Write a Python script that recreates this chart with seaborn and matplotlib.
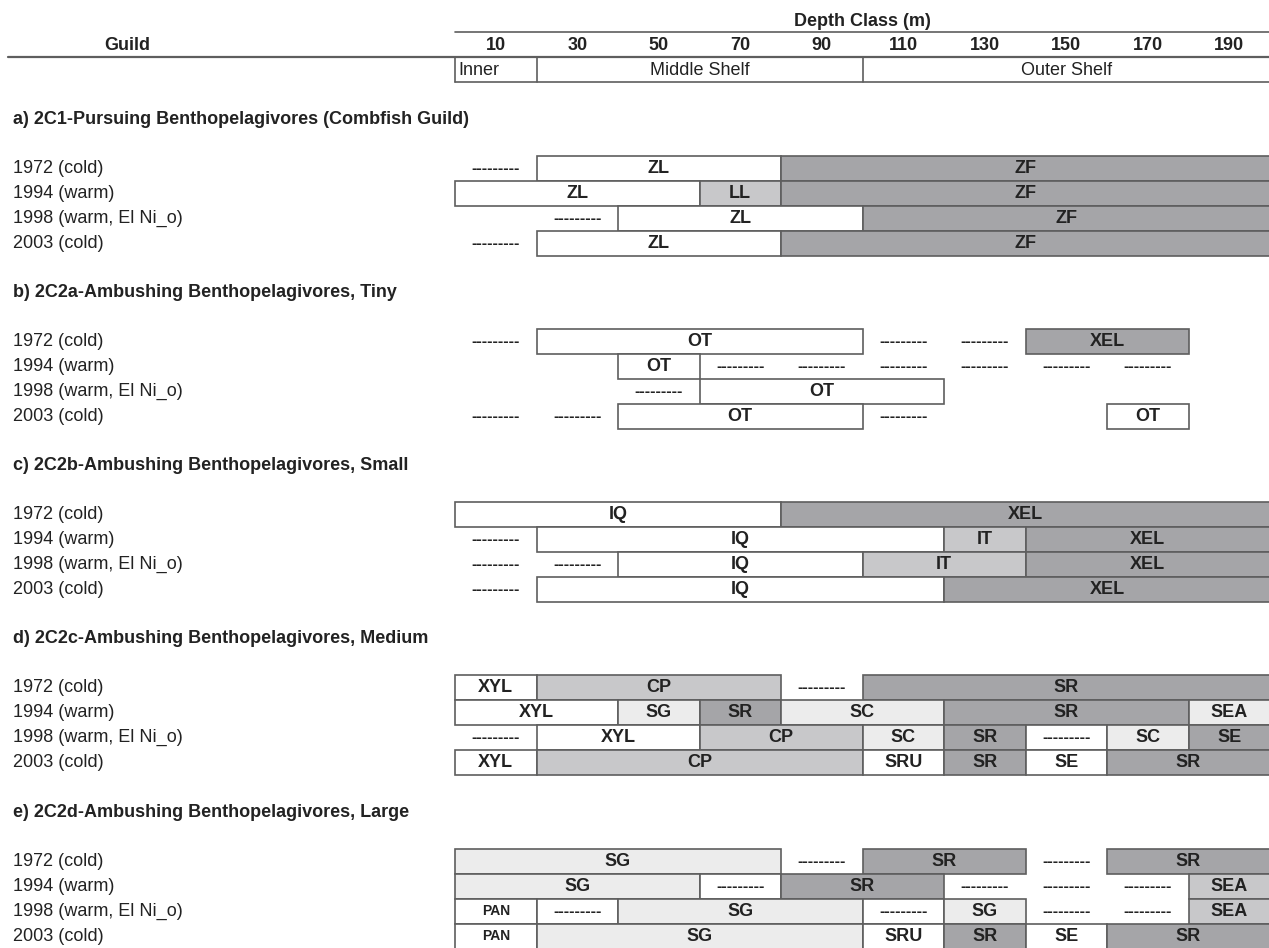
import matplotlib
matplotlib.use("Agg")
import matplotlib.pyplot as plt
import seaborn as sns

sns.set_theme(style="white")
plt.rcParams["font.family"] = ["Liberation Sans", "DejaVu Sans"]

# ---- data -------------------------------------------------------------
depth_classes = [10, 30, 50, 70, 90, 110, 130, 150, 170, 190]
shelf_zones = [("Inner", 10, 10), ("Middle Shelf", 30, 90), ("Outer Shelf", 110, 190)]
years = ["1972 (cold)", "1994 (warm)", "1998 (warm, El Ni_o)", "2003 (cold)"]
guild_titles = [
    "a) 2C1-Pursuing Benthopelagivores (Combfish Guild)",
    "b) 2C2a-Ambushing Benthopelagivores, Tiny",
    "c) 2C2b-Ambushing Benthopelagivores, Small",
    "d) 2C2c-Ambushing Benthopelagivores, Medium",
    "e) 2C2d-Ambushing Benthopelagivores, Large",
]

# each entry: (label, first depth class, last depth class, shade); shade None = absent
DASH = "---------"
guild_a = [
    [(DASH, 10, 10, None), ("ZL", 30, 70, "w"), ("ZF", 90, 190, "d")],
    [("ZL", 10, 50, "w"), ("LL", 70, 70, "l"), ("ZF", 90, 190, "d")],
    [(DASH, 30, 30, None), ("ZL", 50, 90, "w"), ("ZF", 110, 190, "d")],
    [(DASH, 10, 10, None), ("ZL", 30, 70, "w"), ("ZF", 90, 190, "d")],
]
guild_b = [
    [(DASH, 10, 10, None), ("OT", 30, 90, "w"), (DASH, 110, 110, None),
     (DASH, 130, 130, None), ("XEL", 150, 170, "d")],
    [("OT", 50, 50, "w"), (DASH, 70, 70, None), (DASH, 90, 90, None),
     (DASH, 110, 110, None), (DASH, 130, 130, None), (DASH, 150, 150, None),
     (DASH, 170, 170, None)],
    [(DASH, 50, 50, None), ("OT", 70, 110, "w")],
    [(DASH, 10, 10, None), (DASH, 30, 30, None), ("OT", 50, 90, "w"),
     (DASH, 110, 110, None), ("OT", 170, 170, "w")],
]
guild_c = [
    [("IQ", 10, 70, "w"), ("XEL", 90, 190, "d")],
    [(DASH, 10, 10, None), ("IQ", 30, 110, "w"), ("IT", 130, 130, "l"), ("XEL", 150, 190, "d")],
    [(DASH, 10, 10, None), (DASH, 30, 30, None), ("IQ", 50, 90, "w"),
     ("IT", 110, 130, "l"), ("XEL", 150, 190, "d")],
    [(DASH, 10, 10, None), ("IQ", 30, 110, "w"), ("XEL", 130, 190, "d")],
]
guild_d = [
    [("XYL", 10, 10, "w"), ("CP", 30, 70, "l"), (DASH, 90, 90, None), ("SR", 110, 190, "d")],
    [("XYL", 10, 30, "w"), ("SG", 50, 50, "v"), ("SR", 70, 70, "d"), ("SC", 90, 110, "v"),
     ("SR", 130, 170, "d"), ("SEA", 190, 190, "v")],
    [(DASH, 10, 10, None), ("XYL", 30, 50, "w"), ("CP", 70, 90, "l"), ("SC", 110, 110, "v"),
     ("SR", 130, 130, "d"), (DASH, 150, 150, "w"), ("SC", 170, 170, "v"), ("SE", 190, 190, "d")],
    [("XYL", 10, 10, "w"), ("CP", 30, 90, "l"), ("SRU", 110, 110, "w"), ("SR", 130, 130, "d"),
     ("SE", 150, 150, "w"), ("SR", 170, 190, "d")],
]
guild_e = [
    [("SG", 10, 70, "v"), (DASH, 90, 90, None), ("SR", 110, 130, "d"),
     (DASH, 150, 150, None), ("SR", 170, 190, "d")],
    [("SG", 10, 50, "v"), (DASH, 70, 70, "w"), ("SR", 90, 110, "d"), (DASH, 130, 130, None),
     (DASH, 150, 150, None), (DASH, 170, 170, None), ("SEA", 190, 190, "l")],
    [("PAN", 10, 10, "w"), (DASH, 30, 30, "w"), ("SG", 50, 90, "v"), (DASH, 110, 110, "w"),
     ("SG", 130, 130, "v"), (DASH, 150, 150, None), (DASH, 170, 170, None), ("SEA", 190, 190, "l")],
    [("PAN", 10, 10, "w"), ("SG", 30, 90, "v"), ("SRU", 110, 110, "w"), ("SR", 130, 130, "d"),
     ("SE", 150, 150, "w"), ("SR", 170, 190, "d")],
]
guild_rows = [guild_a, guild_b, guild_c, guild_d, guild_e]

# ---- styling ----------------------------------------------------------
shades = {"w": "#ffffff", "v": "#ececec", "l": "#c8c8ca", "d": "#a5a5a8"}
edge = "#5e5e5e"
ink = "#222222"
fs_text = 13

W, H = 1269, 948
fig = plt.figure(figsize=(W / 100, H / 100), dpi=100)
ax = fig.add_axes([0, 0, 1, 1])
ax.set_axis_off()

# x axis in metres: class 10 occupies 0-20 m etc.
x0_px, x1_px = 455.0, 1270.0
scale = (x1_px - x0_px) / 200.0
ax.set_xlim(-x0_px / scale, (W - x0_px) / scale)
ax.set_ylim(H, 0)


def px(x):
    return (x - x0_px) / scale


bold = dict(fontweight="bold", color=ink)

# ---- header -----------------------------------------------------------
ax.text(100, 21, "Depth Class (m)", ha="center", va="center", fontsize=fs_text, **bold)
ax.plot([0, 200], [32, 32], color=edge, lw=1.2)
for d in depth_classes:
    ax.text(d, 45, str(d), ha="center", va="center", fontsize=fs_text, **bold)
ax.text(px(127), 45, "Guild", ha="center", va="center", fontsize=fs_text, **bold)
ax.plot([px(8), 200], [57, 57], color=edge, lw=1.6)
ax.plot([0, 200], [82, 82], color=edge, lw=1.2)
for name, a, b in shelf_zones:
    left, right = a - 10, b + 10
    ax.plot([left, left], [57, 82], color=edge, lw=1.2)
    if name == "Inner":
        ax.text(left + 0.8, 70, name, ha="left", va="center", fontsize=fs_text, color=ink)
    else:
        ax.text((left + right) / 2, 70, name, ha="center", va="center",
                fontsize=fs_text, color=ink)

# ---- guild sections ---------------------------------------------------
title_y0, section_step, first_row_gap, row_h = 119, 173.3, 49, 25
for s, (title, rows) in enumerate(zip(guild_titles, guild_rows)):
    ty = title_y0 + s * section_step
    ax.text(px(13), ty, title, ha="left", va="center", fontsize=fs_text, **bold)
    for r, (year, segs) in enumerate(zip(years, rows)):
        y = ty + first_row_gap + r * row_h
        ax.text(px(13), y, year, ha="left", va="center", fontsize=fs_text, color=ink)
        for label, a, b, shade in segs:
            left, width = a - 10, b - a + 20
            if shade is not None:
                ax.barh(y, width, left=left, height=row_h, color=shades[shade],
                        edgecolor=edge, linewidth=1.2, zorder=2)
            fs = 10 if label == "PAN" else (11.5 if label == DASH else fs_text)
            ax.text(left + width / 2, y, label, ha="center", va="center",
                    fontsize=fs, zorder=3, **bold)

fig.savefig("out.png", dpi=100)
